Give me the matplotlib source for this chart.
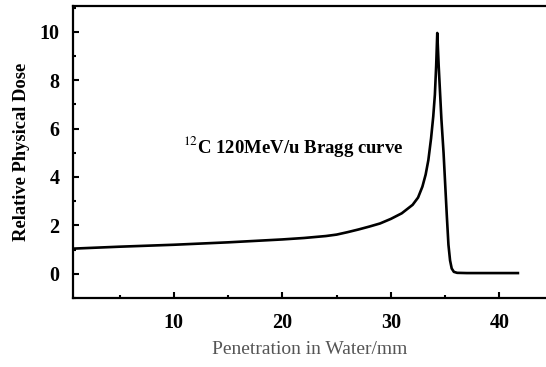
import matplotlib
matplotlib.use("Agg")
import matplotlib.pyplot as plt
from matplotlib.ticker import MultipleLocator

plt.rcParams['font.family'] = ['Liberation Serif', 'DejaVu Serif']
plt.rcParams['mathtext.fontset'] = 'stix'

# depth in water (mm) and relative physical dose
depth = [0.7, 5, 10, 15, 20, 22, 24, 25, 26, 27, 28, 29, 30, 31, 32,
         32.5, 32.9, 33.2, 33.45, 33.7, 33.9, 34.05, 34.17, 34.27, 34.4,
         34.65, 34.85, 35.0, 35.15, 35.3, 35.45, 35.6, 35.8, 36.1, 37, 41.7]
dose = [1.04, 1.12, 1.2, 1.3, 1.42, 1.48, 1.56, 1.62, 1.72, 1.83, 1.95,
        2.08, 2.27, 2.5, 2.85, 3.15, 3.6, 4.1, 4.7, 5.6, 6.5, 7.4, 8.6,
        9.95, 8.6, 6.4, 5.0, 3.7, 2.4, 1.2, 0.55, 0.22, 0.08, 0.04, 0.03,
        0.03]

x_ticks = [10, 20, 30, 40]
y_ticks = [0, 2, 4, 6, 8, 10]

fig = plt.figure(figsize=(5.46, 3.67), dpi=100)
ax = fig.add_axes([0.134, 0.188, 0.9, 0.796])

ax.plot(depth, dose, color='black', lw=1.9)

ax.set_xlim(0.72, 46)
ax.set_ylim(-1.0, 11.07)
ax.set_xticks(x_ticks)
ax.set_yticks(y_ticks)
ax.xaxis.set_minor_locator(MultipleLocator(5))
ax.yaxis.set_minor_locator(MultipleLocator(1))
ax.tick_params(which='both', direction='in', width=1.5)
ax.tick_params(which='major', length=4, labelsize=14.5, pad=11)
ax.tick_params(axis='y', which='major', pad=10)
ax.tick_params(which='minor', length=2)
for lab in ax.get_xticklabels() + ax.get_yticklabels():
    lab.set_fontweight('bold')

for s in ['left', 'bottom', 'top']:
    ax.spines[s].set_linewidth(1.6)
ax.spines['right'].set_visible(False)

ax.set_ylabel('Relative Physical Dose', fontsize=13.3, fontweight='bold', labelpad=7)
fig.text(310 / 546, 1 - 350 / 367, 'Penetration in Water/mm', fontsize=14,
         color='#555555', ha='center', va='center')

ax.text(10.87, 5.25, r'$^{12}$C 120MeV/u Bragg curve', fontsize=13.5,
        fontweight='bold', va='center')

fig.savefig('out.png', dpi=100)
